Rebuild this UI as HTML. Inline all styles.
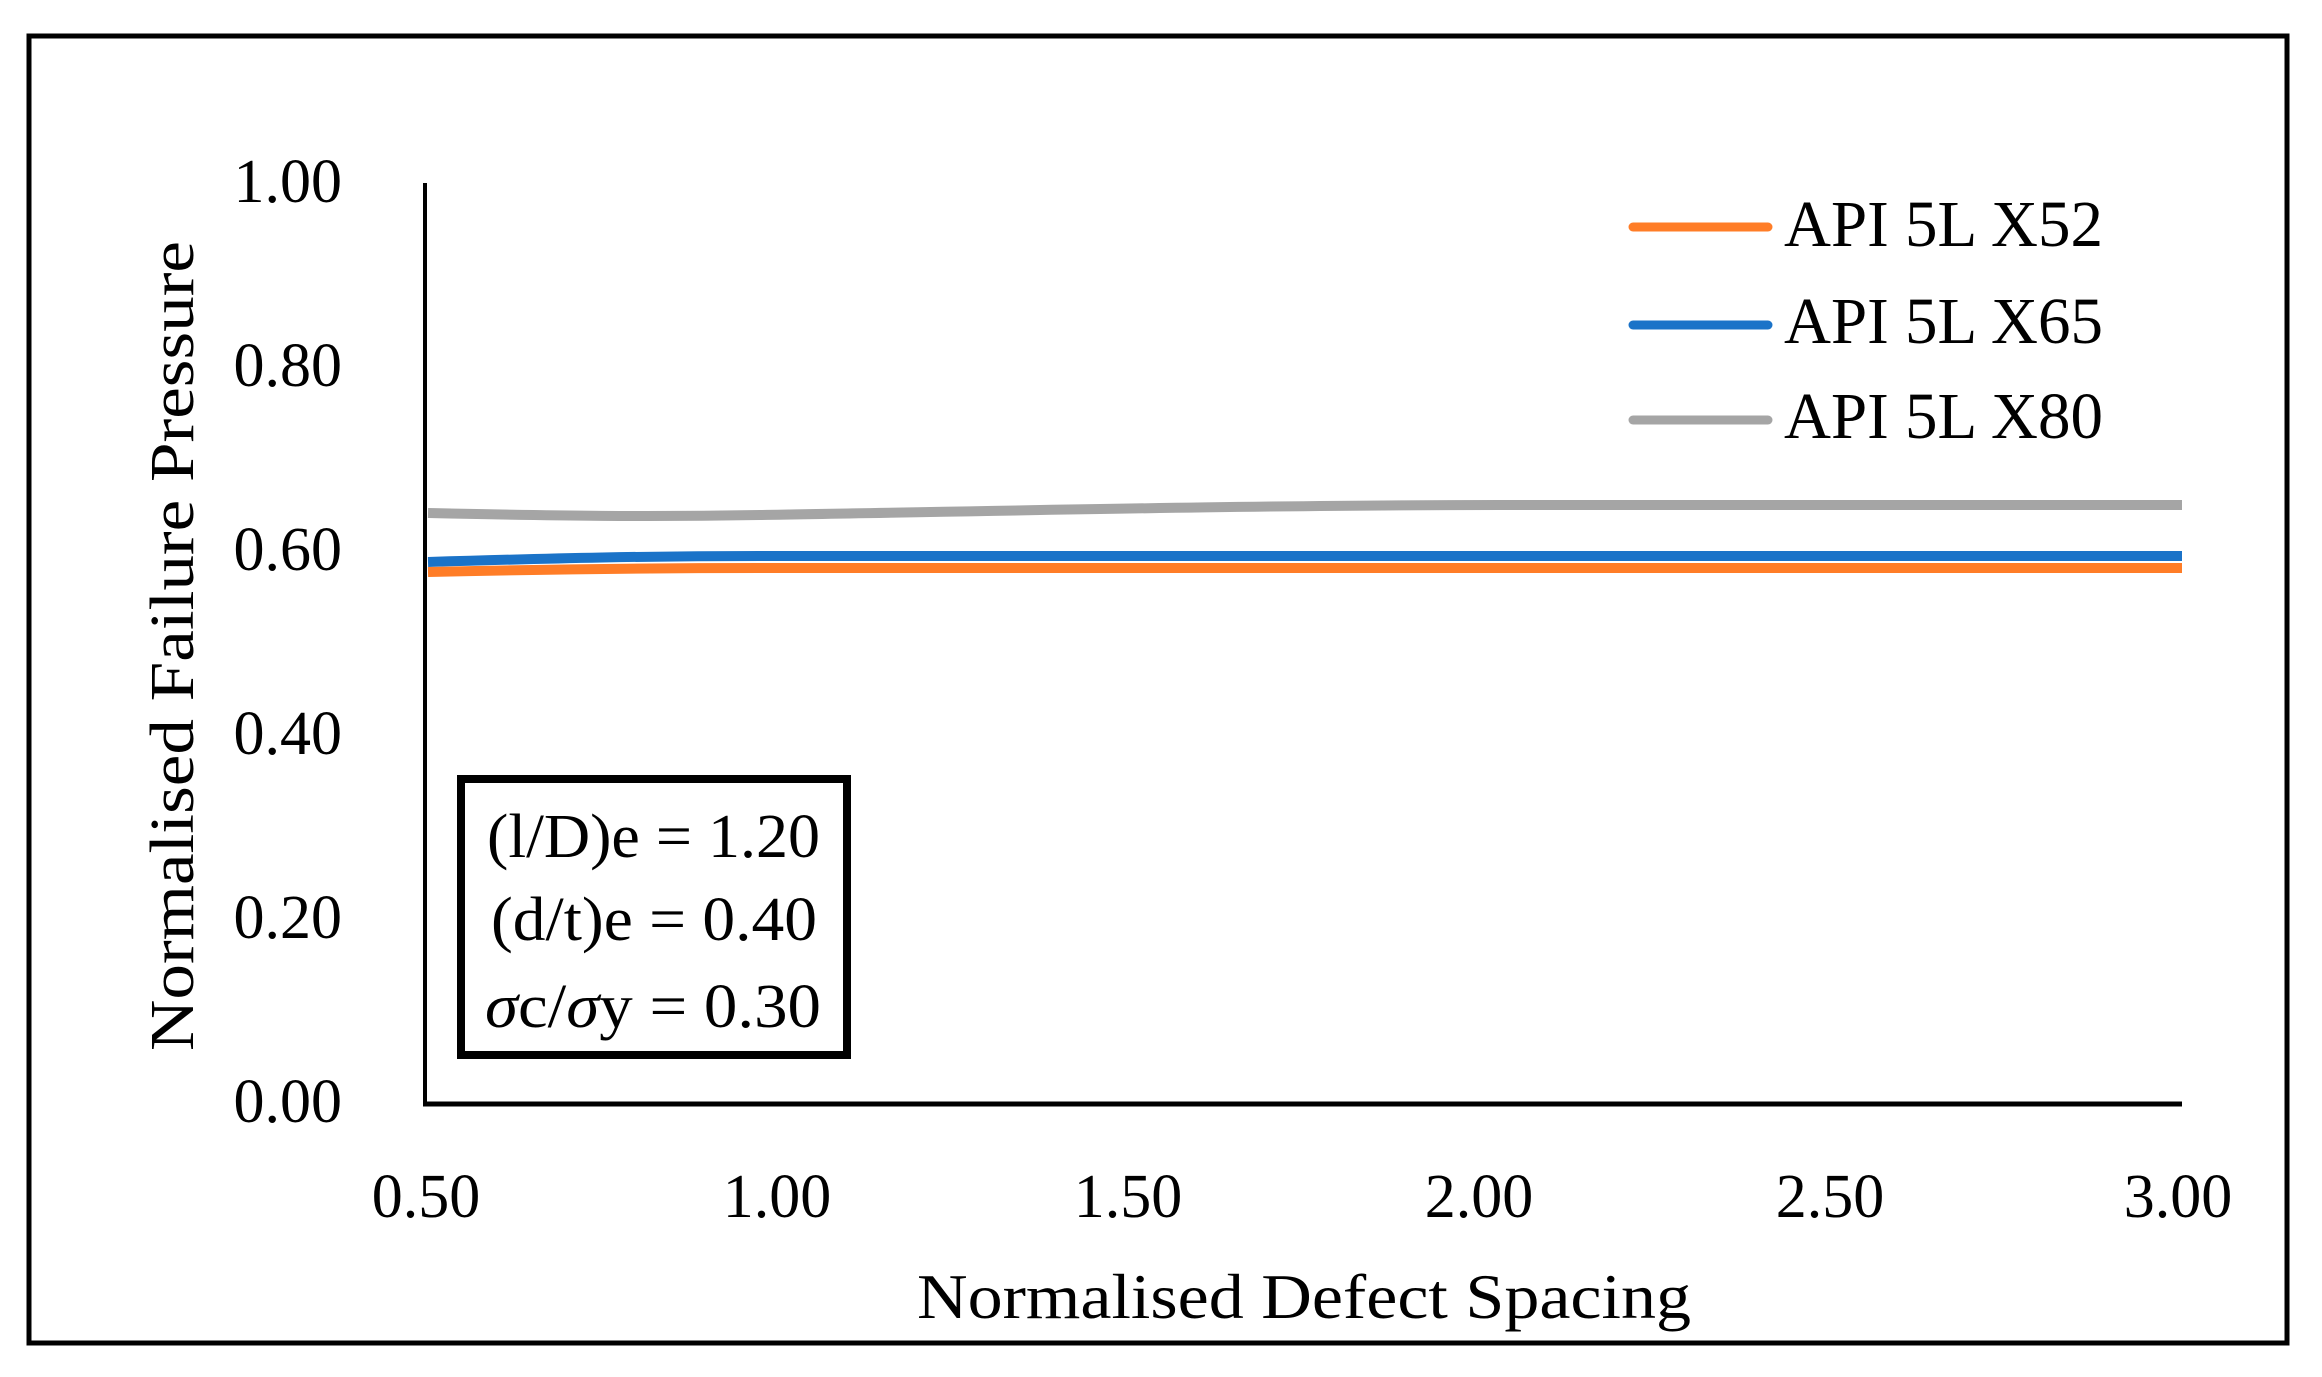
<!DOCTYPE html>
<html><head><meta charset="utf-8"><style>
html,body{margin:0;padding:0;background:#fff;}
svg{display:block;}
text{font-family:"Liberation Serif",serif;fill:#000;}
</style></head><body>
<svg width="2322" height="1377" viewBox="0 0 2322 1377" xmlns="http://www.w3.org/2000/svg">
<rect x="0" y="0" width="2322" height="1377" fill="#fff"/>
<rect x="29" y="36" width="2258" height="1307" fill="none" stroke="#000" stroke-width="5"/>
<line x1="425" y1="183" x2="425" y2="1106" stroke="#000" stroke-width="4"/>
<line x1="423" y1="1104" x2="2182" y2="1104" stroke="#000" stroke-width="5"/>
<g font-size="62" text-anchor="end">
<text x="342" y="202">1.00</text>
<text x="342" y="386">0.80</text>
<text x="342" y="570">0.60</text>
<text x="342" y="754">0.40</text>
<text x="342" y="938">0.20</text>
<text x="342" y="1122">0.00</text>
</g>
<g font-size="62" text-anchor="middle">
<text x="426" y="1217">0.50</text>
<text x="777" y="1217">1.00</text>
<text x="1128" y="1217">1.50</text>
<text x="1479" y="1217">2.00</text>
<text x="1830" y="1217">2.50</text>
<text x="2178" y="1217">3.00</text>
</g>
<text x="917" y="1318" font-size="64" textLength="774" lengthAdjust="spacingAndGlyphs">Normalised Defect Spacing</text>
<text transform="translate(193,1051) rotate(-90)" font-size="62" textLength="810" lengthAdjust="spacingAndGlyphs">Normalised Failure Pressure</text>
<path d="M428,513 C560,516 650,517 760,515 C950,512 1250,505 1500,505 L2182,505" fill="none" stroke="#A5A5A5" stroke-width="10"/>
<path d="M428,562 C560,558 650,556 760,556 L2182,556" fill="none" stroke="#1B73C8" stroke-width="10"/>
<path d="M428,572 C560,569 650,568 760,568 L2182,568" fill="none" stroke="#FF7D27" stroke-width="10"/>
<line x1="1633" y1="227" x2="1768" y2="227" stroke="#FF7D27" stroke-width="9" stroke-linecap="round"/>
<line x1="1633" y1="325" x2="1768" y2="325" stroke="#1B73C8" stroke-width="9" stroke-linecap="round"/>
<line x1="1633" y1="420" x2="1768" y2="420" stroke="#A5A5A5" stroke-width="9" stroke-linecap="round"/>
<g font-size="66">
<text x="1784" y="246" textLength="319" lengthAdjust="spacingAndGlyphs">API 5L X52</text>
<text x="1784" y="343" textLength="319" lengthAdjust="spacingAndGlyphs">API 5L X65</text>
<text x="1784" y="438" textLength="319" lengthAdjust="spacingAndGlyphs">API 5L X80</text>
</g>
<rect x="461" y="779" width="386" height="276" fill="#fff" stroke="#000" stroke-width="8"/>
<g font-size="62">
<text x="487" y="857" textLength="333" lengthAdjust="spacingAndGlyphs">(l/D)e = 1.20</text>
<text x="491" y="940" textLength="326" lengthAdjust="spacingAndGlyphs">(d/t)e = 0.40</text>
<text x="485" y="1027" textLength="336" lengthAdjust="spacingAndGlyphs"><tspan font-style="italic">σ</tspan>c/<tspan font-style="italic">σ</tspan>y = 0.30</text>
</g>
</svg>
</body></html>
